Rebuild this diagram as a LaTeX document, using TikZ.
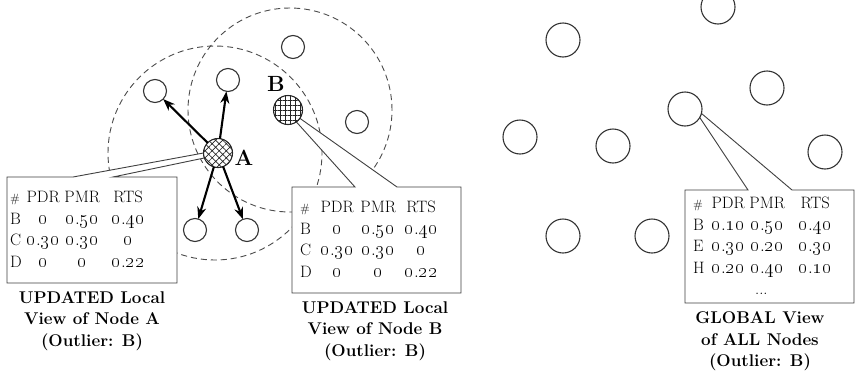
\documentclass[tikz,border=0pt]{standalone}
\usepackage{array}
\usepackage{graphicx}
\usetikzlibrary{patterns.meta,arrows.meta}
\newcommand\on[1]{\scalebox{1.15}{\oldstylenums{0}.\oldstylenums{#1}}}
\newcommand\oz{\scalebox{1.15}{\oldstylenums{0}}}
\newcommand\hs{{\fontsize{12}{12}\selectfont\#}}
\newcolumntype{C}[1]{>{\centering\arraybackslash}p{#1}}
\pgfdeclarelayer{back}
\pgfdeclarelayer{mid}
\pgfsetlayers{back,mid,main}
\begin{document}
\begin{tikzpicture}[x=1pt,y=-1pt,
  nd/.style={circle,draw=black!80,line width=1.1pt,fill=white,minimum size=23pt,inner sep=0pt,outer sep=0pt},
  bignd/.style={nd,minimum size=34pt},
  hatchnd/.style={circle,draw=black!85,line width=1.1pt,minimum size=29pt,inner sep=0pt,outer sep=0pt,
    preaction={fill=white},pattern color=black!85},
  rangecirc/.style={draw=black!70,dash pattern=on 6pt off 4pt,line width=0.9pt},
  calloutbox/.style={draw=black!75,line width=0.9pt,fill=white,line join=miter},
  arrowline/.style={-{Stealth[length=12pt,width=9pt]},line width=2.1pt},
  tabletext/.style={anchor=base west,inner sep=0pt,font=\fontsize{16.5}{21.5}\selectfont},
  captiontext/.style={anchor=base,inner sep=0pt,font=\fontsize{17}{21.5}\selectfont\bfseries},
  labeltext/.style={font=\fontsize{22}{24}\selectfont\bfseries,inner sep=0pt}]
\useasboundingbox (0,0) rectangle (856,370);
\clip (0,0) rectangle (856,370);

% ---- left: local views ----
\node[hatchnd,pattern={Hatch[angle=45,distance=5pt,line width=0.7pt]}] (A) at (218,153) {};
\node[hatchnd,pattern={Hatch[angle=0,distance=5pt,line width=0.7pt]}] (B) at (288,110) {};
\node[nd] (n1) at (155,91) {};
\node[nd] (n2) at (228,80) {};
\node[nd] (n3) at (293,47) {};
\node[nd] (n4) at (357,122) {};
\node[nd] (b1) at (195,230) {};
\node[nd] (b2) at (247,230) {};
\node[labeltext] (la) at (244,158) {A};
\node[labeltext] (lb) at (276,84) {B};

\begin{pgfonlayer}{back}
\fill[white] (0,0) rectangle (856,370);
\draw[rangecirc] (215,153) circle[radius=107pt];
\draw[rangecirc] (290,110) circle[radius=102pt];
\end{pgfonlayer}

\begin{pgfonlayer}{mid}
\draw[calloutbox] (7,177) -- (73,177) -- (A.180) -- (A.200) -- (113,177) -- (177,177)
  -- (177,283) -- (7,283) -- cycle;
\draw[calloutbox] (292,187) -- (355,187) -- (B.-55) -- (B.-35) -- (397,187) -- (461,187)
  -- (461,293) -- (292,293) -- cycle;
\end{pgfonlayer}

\draw[arrowline] (A) -- (n1);
\draw[arrowline] (A) -- (n2);
\draw[arrowline] (A) -- (b1);
\draw[arrowline] (A) -- (b2);

\node[tabletext] (ltab) at (10,202.5) {\begin{tabular}[t]{@{}p{14pt}@{}C{38pt}@{}C{40pt}@{}C{52pt}@{}}
\hs & PDR & PMR & RTS\\
B & \oz & \on{50} & \on{40}\\
C & \on{30} & \on{30} & \oz\\
D & \oz & \oz & \on{22}
\end{tabular}};
\node[tabletext] (mtab) at (300,212.5) {\begin{tabular}[t]{@{}p{17pt}@{}C{40pt}@{}C{42pt}@{}C{44pt}@{}}
\hs & PDR & PMR & RTS\\
B & \oz & \on{50} & \on{40}\\
C & \on{30} & \on{30} & \oz\\
D & \oz & \oz & \on{22}
\end{tabular}};

\node[captiontext] (capA) at (92,303) {\begin{tabular}[t]{@{}c@{}}UPDATED Local\\View of Node A\\(Outlier: B)\end{tabular}};
\node[captiontext] (capB) at (375,313) {\begin{tabular}[t]{@{}c@{}}UPDATED Local\\View of Node B\\(Outlier: B)\end{tabular}};

% ---- right: global view ----
\node[bignd] (g1) at (718,7) {};
\node[bignd] (g2) at (563,40) {};
\node[bignd] (g3) at (767,88) {};
\node[bignd] (g) at (685,109) {};
\node[bignd] (g4) at (520,137) {};
\node[bignd] (g5) at (613,146) {};
\node[bignd] (g6) at (825,152) {};
\node[bignd] (g7) at (563,236) {};
\node[bignd] (g8) at (652,236) {};

\begin{pgfonlayer}{mid}
\draw[calloutbox] (685,190) -- (748,190) -- (g.-30) -- (g.-15) -- (792,190) -- (854,190)
  -- (854,303) -- (685,303) -- cycle;
\end{pgfonlayer}

\node[tabletext] (rtab) at (693,208.5) {\begin{tabular}[t]{@{}p{17pt}@{}C{36pt}@{}C{42pt}@{}C{54pt}@{}}
\hs & PDR & PMR & RTS\\
B & \on{10} & \on{50} & \on{40}\\
E & \on{30} & \on{20} & \on{30}\\
H & \on{20} & \on{40} & \on{10}\\
\multicolumn{4}{@{}l@{}}{\hspace{62pt}...}
\end{tabular}};

\node[captiontext] (capG) at (760,323.5) {\begin{tabular}[t]{@{}c@{}}GLOBAL View\\of ALL Nodes\\(Outlier: B)\end{tabular}};
\end{tikzpicture}
\end{document}
